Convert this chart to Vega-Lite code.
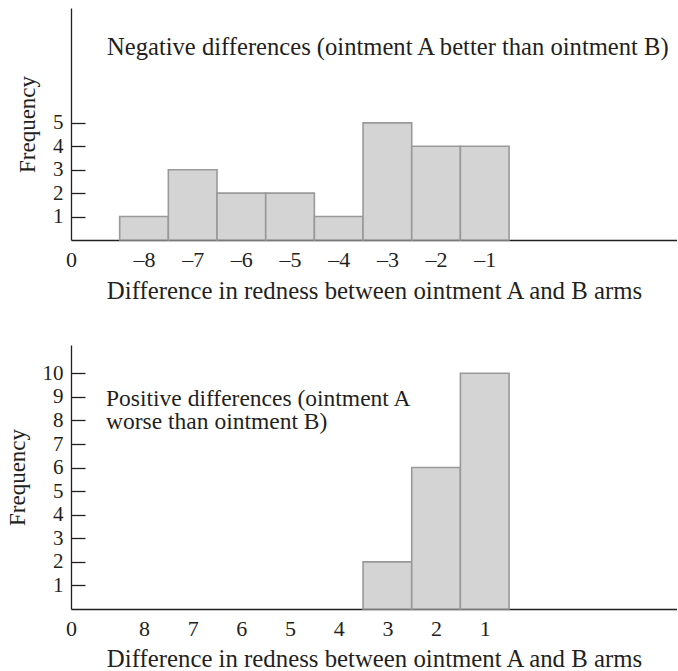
{
  "$schema": "https://vega.github.io/schema/vega-lite/v6.json",
  "background": "white",
  "padding": {"left": 6, "top": 8, "right": 0, "bottom": 0},
  "spacing": 42,
  "config": {
    "font": "Liberation Serif",
    "view": {"stroke": null},
    "axis": {
      "labelFont": "Liberation Serif",
      "titleFont": "Liberation Serif",
      "labelFontSize": 22,
      "titleFontSize": 24.8,
      "titleFontWeight": "normal",
      "labelColor": "#231f20",
      "titleColor": "#231f20",
      "domainColor": "#231f20",
      "tickColor": "#231f20",
      "domainWidth": 1.3,
      "tickWidth": 1.3,
      "labelOverlap": false,
      "grid": false
    },
    "text": {"font": "Liberation Serif", "fontSize": 24.6, "color": "#231f20"}
  },
  "vconcat": [
    {
      "width": 606,
      "height": 232,
      "data": {
        "values": [
          {"diff": -8, "bin_start": -8.5, "bin_end": -7.5, "count": 1},
          {"diff": -7, "bin_start": -7.5, "bin_end": -6.5, "count": 3},
          {"diff": -6, "bin_start": -6.5, "bin_end": -5.5, "count": 2},
          {"diff": -5, "bin_start": -5.5, "bin_end": -4.5, "count": 2},
          {"diff": -4, "bin_start": -4.5, "bin_end": -3.5, "count": 1},
          {"diff": -3, "bin_start": -3.5, "bin_end": -2.5, "count": 5},
          {"diff": -2, "bin_start": -2.5, "bin_end": -1.5, "count": 4},
          {"diff": -1, "bin_start": -1.5, "bin_end": -0.5, "count": 4}
        ]
      },
      "layer": [
        {
          "mark": {"type": "bar", "fill": "#d4d4d4", "stroke": "#999999", "strokeWidth": 1.6},
          "encoding": {
            "x": {
              "field": "bin_start", "type": "quantitative",
              "scale": {"domain": [-9.5, 2.95], "nice": false, "zero": false},
              "axis": {
                "values": [-9.5, -8, -7, -6, -5, -4, -3, -2, -1],
                "tickCount": 20,
                "labelExpr": "datum.value == -9.5 ? '0' : '–' + format(abs(datum.value), 'd')",
                "ticks": false,
                "labelFlush": false,
                "labelOverlap": false,
                "labelPadding": 9,
                "titlePadding": 8,
                "title": "Difference in redness between ointment A and B arms"
              }
            },
            "x2": {"field": "bin_end"},
            "y": {
              "field": "count", "type": "quantitative",
              "scale": {"domain": [0, 9.9], "nice": false},
              "axis": {
                "values": [1, 2, 3, 4, 5],
                "tickCount": 20,
                "format": "d",
                "tickSize": -14,
                "labelFontSize": 21,
                "labelPadding": 22,
                "labelOverlap": false,
                "titlePadding": 13,
                "titleFontSize": 23,
                "title": "Frequency"
              }
            },
            "y2": {"datum": 0}
          }
        },
        {
          "data": {"values": [{"note": "Negative differences (ointment A better than ointment B)"}]},
          "mark": {"type": "text", "align": "left", "baseline": "middle", "clip": true},
          "encoding": {
            "x": {"datum": -8.76},
            "y": {"datum": 8.2},
            "text": {"field": "note"}
          }
        }
      ]
    },
    {
      "width": 606,
      "height": 264,
      "data": {
        "values": [
          {"diff": 3, "bin_start": 3.5, "bin_end": 2.5, "count": 2},
          {"diff": 2, "bin_start": 2.5, "bin_end": 1.5, "count": 6},
          {"diff": 1, "bin_start": 1.5, "bin_end": 0.5, "count": 10}
        ]
      },
      "layer": [
        {
          "mark": {"type": "bar", "fill": "#d4d4d4", "stroke": "#999999", "strokeWidth": 1.6},
          "encoding": {
            "x": {
              "field": "bin_start", "type": "quantitative",
              "scale": {"domain": [-2.95, 9.5], "nice": false, "zero": false, "reverse": true},
              "axis": {
                "values": [9.5, 8, 7, 6, 5, 4, 3, 2, 1],
                "tickCount": 20,
                "labelExpr": "datum.value == 9.5 ? '0' : format(datum.value, 'd')",
                "ticks": false,
                "labelFlush": false,
                "labelOverlap": false,
                "labelPadding": 9,
                "titlePadding": 7,
                "title": "Difference in redness between ointment A and B arms"
              }
            },
            "x2": {"field": "bin_end"},
            "y": {
              "field": "count", "type": "quantitative",
              "scale": {"domain": [0, 11.2], "nice": false},
              "axis": {
                "values": [1, 2, 3, 4, 5, 6, 7, 8, 9, 10],
                "tickCount": 20,
                "format": "d",
                "tickSize": -14,
                "labelFontSize": 21,
                "labelPadding": 22,
                "labelOverlap": false,
                "titlePadding": 13,
                "titleFontSize": 23,
                "title": "Frequency"
              }
            },
            "y2": {"datum": 0}
          }
        },
        {
          "data": {"values": [{"line1": "Positive differences (ointment A", "line2": "worse than ointment B)"}]},
          "mark": {"type": "text", "align": "left", "baseline": "middle", "fontSize": 23.5, "lineHeight": 23.5, "clip": true},
          "encoding": {
            "x": {"datum": 8.78},
            "y": {"datum": 8.93},
            "text": {"value": ["Positive differences (ointment A", "worse than ointment B)"]}
          }
        }
      ]
    }
  ]
}
